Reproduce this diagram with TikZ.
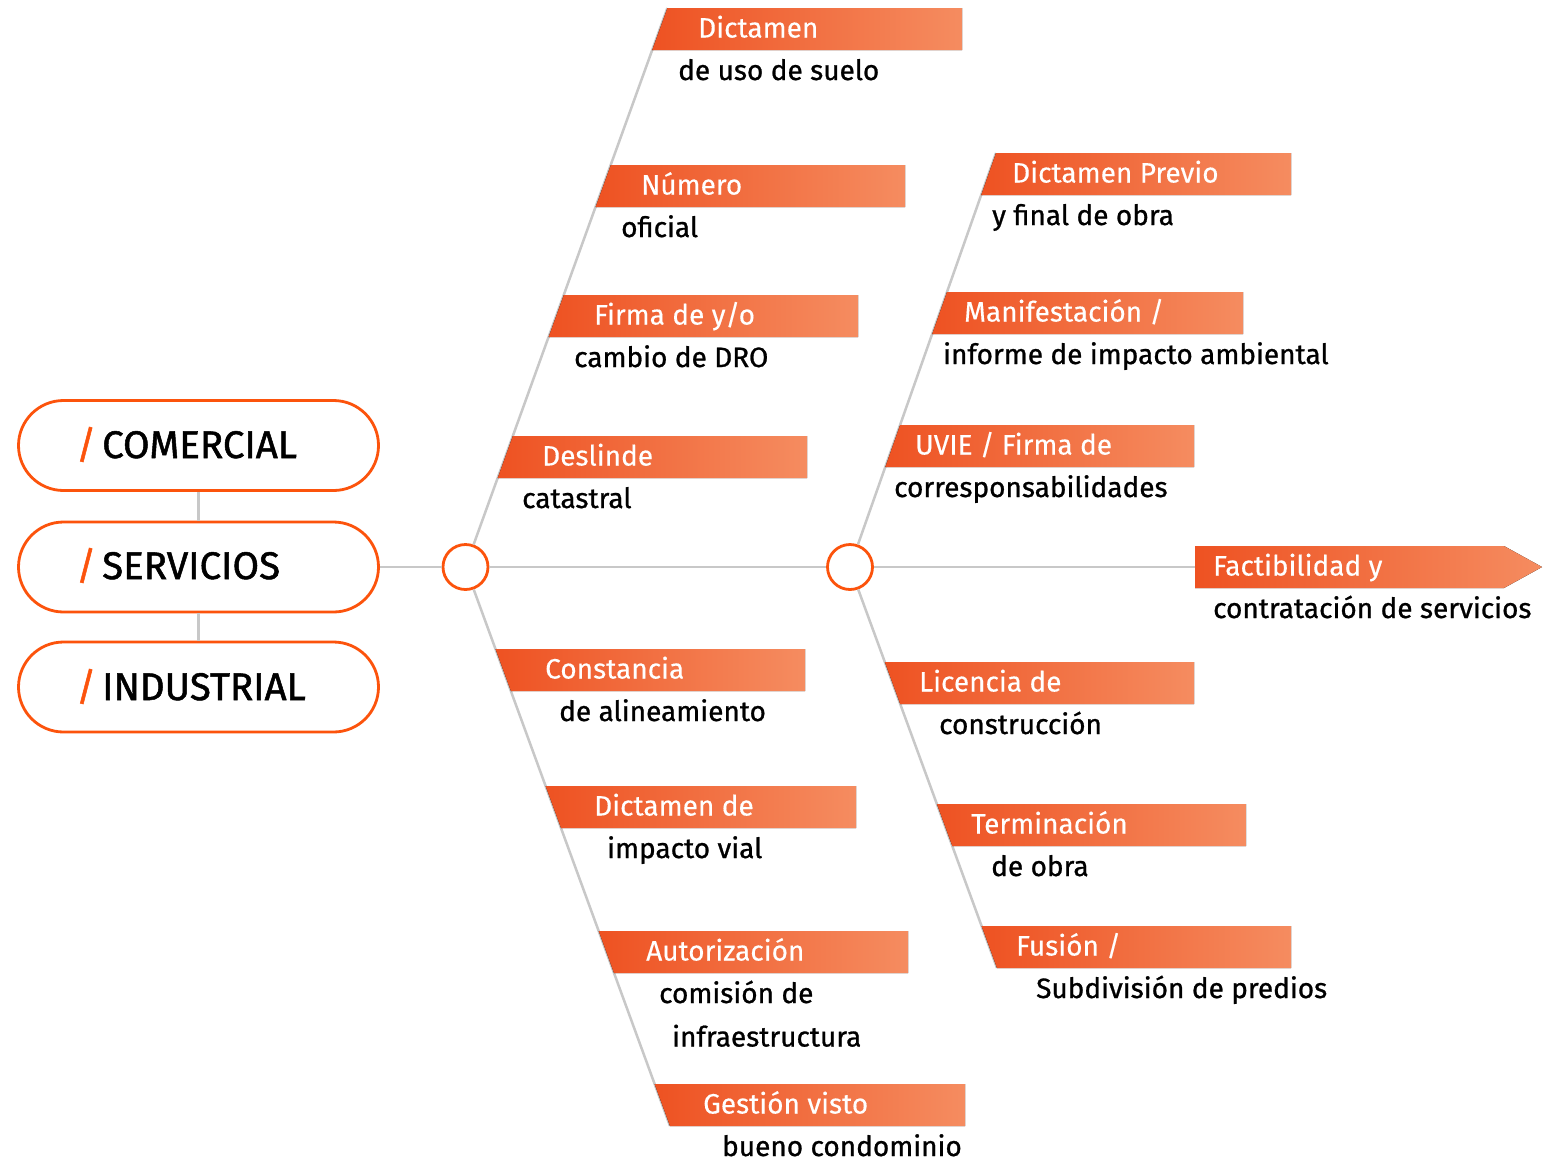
\documentclass[tikz,border=0pt]{standalone}
\usepackage{fontspec}
\setmainfont{Fira Sans}
\newfontfamily\medfont{Fira Sans}[FakeBold=0.9]
\newfontfamily\wfont{Fira Sans}[FakeBold=0.3]
\newfontfamily\catfont{Fira Sans}[FakeBold=1.3]
\usetikzlibrary{shapes.misc}
\definecolor{accent}{RGB}{252,83,12}
\definecolor{gline}{RGB}{200,200,200}
\definecolor{gl}{RGB}{238,82,34}
\definecolor{gr}{RGB}{245,140,96}
\tikzset{
 pill/.style={rounded rectangle, draw=accent, line width=2.8pt, minimum width=360pt, minimum height=90pt, fill=white, inner sep=0pt},
 hub/.style={circle, draw=accent, line width=2.8pt, minimum size=45pt, inner sep=0pt, fill=white},
 conn/.style={draw=gline, line width=2.5pt},
 band/.style={left color=gl, right color=gr},
 wtxt/.style={anchor=base west, inner sep=0pt, text=white, font=\wfont\fontsize{28}{28}\selectfont},
 btxt/.style={anchor=base west, inner sep=0pt, text=black, font=\medfont\fontsize{28}{28}\selectfont},
 cat/.style={anchor=base west, inner sep=0pt, text=black, font=\catfont\fontsize{38.5}{38.5}\selectfont},
}
\begin{document}
\begin{tikzpicture}[x=1pt,y=-1pt]
\useasboundingbox (0,0) rectangle (1545,1163);
\fill[white] (0,0) rectangle (1545,1163);
% categories
\node[pill] (com) at (198.5,445.5) {};
\node[pill] (ser) at (198.5,567) {};
\node[pill] (ind) at (198.5,687) {};
\node[hub] (c1) at (465.5,567) {};
\node[hub] (c2) at (850,567) {};
% named end points
\coordinate (ulend) at (667.4,8);
\coordinate (llend) at (670,1126);
\coordinate (urend) at (996,153);
\coordinate (lrend) at (997,968);
\coordinate (arr) at (1196,567);
% connectors
\draw[conn] (com) -- (ser);
\draw[conn] (ser) -- (ind);
\draw[conn] (ser.east) -- (c1.west);
\draw[conn] (c1.east) -- (c2.west);
\draw[conn] (c2.east) -- (arr);
\draw[conn] (c1) -- (ulend);
\draw[conn] (c1) -- (llend);
\draw[conn] (c2) -- (urend);
\draw[conn] (c2) -- (lrend);
% banners upper-left
\fill[band] (667.4,8) -- (962,8) -- (962,50) -- (652.2,50) -- cycle;
\fill[band] (610.8,165) -- (905,165) -- (905,207) -- (595.6,207) -- cycle;
\fill[band] (563.8,295) -- (858,295) -- (858,337) -- (548.6,337) -- cycle;
\fill[band] (512.8,436) -- (807,436) -- (807,478) -- (497.7,478) -- cycle;
% banners lower-left
\fill[band] (495.5,649) -- (805,649) -- (805,691) -- (510.9,691) -- cycle;
\fill[band] (545.6,786) -- (856,786) -- (856,828) -- (561,828) -- cycle;
\fill[band] (598.7,931) -- (908,931) -- (908,973) -- (614,973) -- cycle;
\fill[band] (654.6,1084) -- (965,1084) -- (965,1126) -- (670,1126) -- cycle;
% banners upper-right
\fill[band] (996,153) -- (1291,153) -- (1291,195) -- (981.2,195) -- cycle;
\fill[band] (947,292) -- (1243,292) -- (1243,334) -- (932.2,334) -- cycle;
\fill[band] (900.1,425) -- (1194,425) -- (1194,467) -- (885.3,467) -- cycle;
% banners lower-right
\fill[band] (884.8,662) -- (1194,662) -- (1194,704) -- (900.2,704) -- cycle;
\fill[band] (936.9,804) -- (1246,804) -- (1246,846) -- (952.3,846) -- cycle;
\fill[band] (981.6,926) -- (1291,926) -- (1291,968) -- (997,968) -- cycle;
% final arrow
\fill[band] (1195,546) -- (1504,546) -- (1542,567) -- (1504,588) -- (1195,588) -- cycle;
% category labels
\node[cat] (comt) at (76,458) {\textcolor{accent}{/}\hspace{6pt}COMERCIAL};
\node[cat] (sert) at (76,579) {\textcolor{accent}{/}\hspace{6pt}SERVICIOS};
\node[cat] (indt) at (76,700) {\textcolor{accent}{/}\hspace{6pt}INDUSTRIAL};
% texts upper-left
\node[wtxt] (w1) at (698,37.5) {Dictamen};
\node[btxt] (b1) at (678,80) {de uso de suelo};
\node[wtxt] (w2) at (641,194.5) {Número};
\node[btxt] (b2) at (621,237) {oficial};
\node[wtxt] (w3) at (594,324.5) {Firma de y/o};
\node[btxt] (b3) at (574,367) {cambio de DRO};
\node[wtxt] (w4) at (542,465.5) {Deslinde};
\node[btxt] (b4) at (522,508) {catastral};
% texts lower-left
\node[wtxt] (w5) at (545,678.5) {Constancia};
\node[btxt] (b5) at (559,721) {de alineamiento};
\node[wtxt] (w6) at (594,815.5) {Dictamen de};
\node[btxt] (b6) at (607,858) {impacto vial};
\node[wtxt] (w7) at (646,960.5) {Autorización};
\node[btxt] (b7) at (659,1003) {comisión de};
\node[btxt] (b7b) at (672,1046.5) {infraestructura};
\node[wtxt] (w8) at (703,1113.5) {Gestión visto};
\node[btxt] (b8) at (722,1156) {bueno condominio};
% texts upper-right
\node[wtxt] (w9) at (1012,182.5) {Dictamen Previo};
\node[btxt] (b9) at (992,225) {y final de obra};
\node[wtxt] (w10) at (964,321.5) {Manifestación /};
\node[btxt] (b10) at (943,364) {informe de impacto ambiental};
\node[wtxt] (w11) at (915,454.5) {UVIE / Firma de};
\node[btxt] (b11) at (894,497) {corresponsabilidades};
% texts lower-right
\node[wtxt] (w12) at (919,691.5) {Licencia de};
\node[btxt] (b12) at (939,734) {construcción};
\node[wtxt] (w13) at (971,833.5) {Terminación};
\node[btxt] (b13) at (991,876) {de obra};
\node[wtxt] (w14) at (1016,955.5) {Fusión /};
\node[btxt] (b14) at (1036,998) {Subdivisión de predios};
% final
\node[wtxt] (w15) at (1213,575.5) {Factibilidad y};
\node[btxt] (b15) at (1213,618) {contratación de servicios};
\end{tikzpicture}
\end{document}
